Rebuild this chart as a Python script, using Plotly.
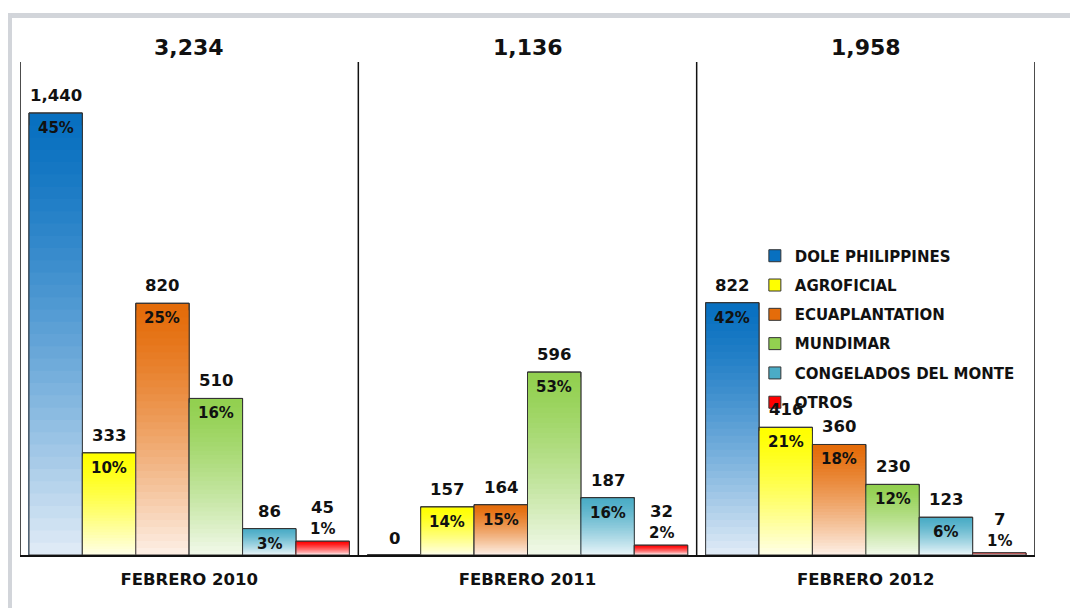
import plotly.graph_objects as go

periods = ["FEBRERO 2010", "FEBRERO 2011", "FEBRERO 2012"]
companies = ["DOLE PHILIPPINES", "AGROFICIAL", "ECUAPLANTATION", "MUNDIMAR",
             "CONGELADOS DEL MONTE", "OTROS"]

dole = [1440, 0, 822]
agroficial = [333, 157, 416]
ecuaplantation = [820, 164, 360]
mundimar = [510, 596, 230]
congelados = [86, 187, 123]
otros = [45, 32, 7]

dole_pct = ["45%", "", "42%"]
agroficial_pct = ["10%", "14%", "21%"]
ecuaplantation_pct = ["25%", "15%", "18%"]
mundimar_pct = ["16%", "53%", "12%"]
congelados_pct = ["3%", "16%", "6%"]
otros_pct = ["1%", "2%", "1%"]

series = [dole, agroficial, ecuaplantation, mundimar, congelados, otros]
pcts = [dole_pct, agroficial_pct, ecuaplantation_pct, mundimar_pct, congelados_pct, otros_pct]

# gradient: (top colour, bottom colour)
grad = [
    ((8, 112, 192), (222, 234, 246)),
    ((255, 255, 0), (255, 255, 228)),
    ((228, 108, 10), (253, 238, 227)),
    ((146, 208, 80), (240, 248, 232)),
    ((75, 172, 198), (230, 244, 248)),
    ((255, 0, 0), (255, 224, 224)),
]

FONT = "DejaVu Sans"
N = 36
BARGAP = 0.053

fig = go.Figure()
idx = list(range(len(periods)))

for s, (name, vals) in enumerate(zip(companies, series)):
    top, bot = grad[s]
    for k in range(N):
        t = (k / (N - 1)) ** 1.3
        col = tuple(round(top[j] + (bot[j] - top[j]) * t) for j in range(3))
        frac = (N - k) / N
        fig.add_trace(go.Bar(
            x=idx, y=[v * frac for v in vals],
            name=name, legendgroup=name, offsetgroup=str(s),
            showlegend=(k == 0),
            marker=dict(color="rgb(%d,%d,%d)" % col,
                        line=dict(color="#333333", width=1 if k == 0 else 0)),
            hoverinfo="skip",
        ))
    # outline on top
    fig.add_trace(go.Bar(
        x=idx, y=vals, name=name, legendgroup=name, offsetgroup=str(s),
        showlegend=False,
        marker=dict(color="rgba(0,0,0,0)", line=dict(color="#333333", width=1)),
        hovertemplate=name + ": %{y}<extra></extra>",
    ))

annotations = []
ns = len(companies)
gw = 1 - BARGAP
bw = gw / ns
for s in range(ns):
    for c in idx:
        v = series[s][c]
        xc = c - gw / 2 + bw * (s + 0.5)
        p = pcts[s][c]
        if v >= 60:
            annotations.append(dict(x=xc, y=v, xref="x", yref="y", text=p, showarrow=False,
                                    yanchor="top", yshift=-4,
                                    font=dict(family=FONT, size=15, color="#111", weight="bold")))
            vshift = 6
        elif v > 0:
            annotations.append(dict(x=xc, y=v, xref="x", yref="y", text=p, showarrow=False,
                                    yanchor="bottom", yshift=1,
                                    font=dict(family=FONT, size=15, color="#111", weight="bold")))
            vshift = 22
        else:
            vshift = 5
        annotations.append(dict(x=xc, y=v, xref="x", yref="y", text=f"{v:,}", showarrow=False,
                                yanchor="bottom", yshift=vshift,
                                font=dict(family=FONT, size=16.5, color="#111", weight="bold")))

totals = [sum(series[s][c] for s in range(ns)) for c in idx]
for c in idx:
    annotations.append(dict(x=c, y=1.0304, xref="x", yref="paper", text=f"{totals[c]:,}",
                            showarrow=False, yanchor="middle",
                            font=dict(family=FONT, size=22, color="#111", weight="bold")))

shapes = []
for xb in [-0.5, 0.5, 1.5, 2.5]:
    shapes.append(dict(type="line", xref="x", yref="paper", x0=xb, x1=xb, y0=0, y1=1,
                       line=dict(color="#111111", width=1.5)))
# light gray frame
shapes.append(dict(type="rect", xref="paper", yref="paper", x0=-0.0128, x1=1.06,
                   y0=1.0892, y1=1.0994, fillcolor="#D2D5DA", line=dict(width=0), layer="below"))
shapes.append(dict(type="rect", xref="paper", yref="paper", x0=-0.0128, x1=-0.0079,
                   y0=-0.13, y1=1.0994, fillcolor="#D2D5DA", line=dict(width=0), layer="below"))

fig.update_layout(
    width=1078, height=608,
    margin=dict(l=12, r=51, t=54, b=61),
    paper_bgcolor="white", plot_bgcolor="white",
    barmode="group", bargap=BARGAP, bargroupgap=0,
    showlegend=True,
    legend=dict(x=0.724, y=0.64, xanchor="left", yanchor="top",
                bgcolor="rgba(0,0,0,0)", traceorder="grouped", tracegroupgap=6.8,
                font=dict(family=FONT, size=15, color="#111", weight="bold"),
                itemwidth=30),
    xaxis=dict(tickmode="array", tickvals=idx, ticktext=periods, range=[-0.5, 2.5],
               showline=True, linecolor="#111111", linewidth=2, showgrid=False,
               zeroline=False, ticks="", ticklabelstandoff=8,
               tickfont=dict(family=FONT, size=16.5, color="#111", weight="bold")),
    yaxis=dict(range=[0, 1606], visible=False, showgrid=False, zeroline=False),
    annotations=annotations,
    shapes=shapes,
    font=dict(family=FONT),
)

fig.write_html("out.html")
